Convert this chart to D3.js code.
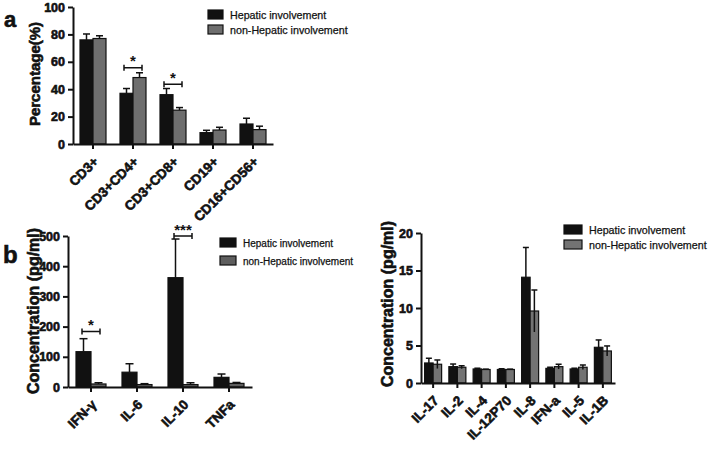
<!DOCTYPE html>
<html>
<head>
<meta charset="utf-8">
<script src="https://cdn.jsdelivr.net/npm/d3@7"></script>
<style>
  body { margin: 0; background: #fff; }
  svg { display: block; font-family: "Liberation Sans", Arial, sans-serif; }
  .tick text { font-weight: bold; font-family: "Liberation Sans", Arial, sans-serif; }
  .heavy { stroke: #111; stroke-width: 0.6px; }
  .leg { stroke: #111; stroke-width: 0.25px; }
</style>
</head>
<body>
<div id="chart"></div>
<script>
// panel a - lymphocyte subsets
var aCats = ["CD3+", "CD3+CD4+", "CD3+CD8+", "CD19+", "CD16+CD56+"];
var aHep = [76, 37, 36, 8.3, 14.6];
var aHepErr = [4.3, 3.5, 4.5, 1.7, 4.2];
var aNon = [77, 48.5, 24.7, 10.2, 10.5];
var aNonErr = [2, 3.5, 1.9, 2, 2.5];
var aTicks = [0, 20, 40, 60, 80, 100];
var aSigCats = ["CD3+CD4+", "CD3+CD8+"];
var aSigLevels = [55.6, 43.7];
var aSigMarks = ["*", "*"];

// panel b left - cytokines (high)
var bCats = ["IFN-γ", "IL-6", "IL-10", "TNFa"];
var bHep = [117, 49, 362, 32];
var bHepErr = [43, 28, 128, 11];
var bNon = [10, 8, 8, 12];
var bNonErr = [4, 3, 6, 3];
var bTicks = [0, 100, 200, 300, 400, 500];
var bSigCats = ["IFN-γ", "IL-10"];
var bSigLevels = [184, 500];
var bSigMarks = ["*", "***"];

// panel b right - cytokines (low)
var cCats = ["IL-17", "IL-2", "IL-4", "IL-12P70", "IL-8", "IFN-a", "IL-5", "IL-1B"];
var cHep = [2.67, 2.18, 1.87, 1.8, 14.1, 1.95, 1.87, 4.76];
var cHepErr = [0.63, 0.35, 0.1, 0.1, 3.97, 0.15, 0.1, 0.98];
var cNon = [2.5, 2.1, 1.8, 1.8, 9.6, 2.18, 2.1, 4.27];
var cNonErr = [0.57, 0.2, 0.05, 0.05, 2.8, 0.32, 0.3, 0.67];
var cTicks = [0, 5, 10, 15, 20];

var series = ["Hepatic involvement", "non-Hepatic involvement"];

var svg = d3.select("#chart").append("svg")
    .attr("width", 709)
    .attr("height", 449);

function panel(p) {
    var x = d3.scaleBand().domain(p.cats).range([p.x0, p.x1]);
    var y = d3.scaleLinear().domain([0, p.max]).range([p.y0, p.y1]);
    var sub = d3.scaleBand().domain([0, 1]).range([-p.barW, p.barW]);
    var g = svg.append("g");
    var rows = p.cats.map(function(c, i) {
        return [
            {cat: c, s: 0, v: p.hep[i], e: p.hepErr[i]},
            {cat: c, s: 1, v: p.non[i], e: p.nonErr[i]}
        ];
    });
    var bars = [].concat.apply([], rows);
    var cx = function(d) { return x(d.cat) + x.bandwidth() / 2 + sub(d.s); };

    g.selectAll("rect.bar").data(bars).enter().append("rect")
        .attr("class", "bar")
        .attr("x", cx)
        .attr("y", function(d) { return y(d.v); })
        .attr("width", p.barW)
        .attr("height", function(d) { return y(0) - y(d.v); })
        .attr("fill", function(d) { return d.s ? p.gray : "#111"; })
        .attr("stroke", "#111")
        .attr("stroke-width", 1.2);

    // error bars (mean + SD, cap on top)
    g.selectAll("line.err").data(bars).enter().append("line")
        .attr("x1", function(d) { return cx(d) + p.barW / 2; })
        .attr("x2", function(d) { return cx(d) + p.barW / 2; })
        .attr("y1", function(d) { return y(p.both ? d.v - d.e : d.v); })
        .attr("y2", function(d) { return y(d.v + d.e); })
        .attr("stroke", "#111").attr("stroke-width", 1.5);
    g.selectAll("line.cap").data(bars).enter().append("line")
        .attr("x1", function(d) { return cx(d) + p.barW / 2 - p.cap; })
        .attr("x2", function(d) { return cx(d) + p.barW / 2 + p.cap; })
        .attr("y1", function(d) { return y(d.v + d.e); })
        .attr("y2", function(d) { return y(d.v + d.e); })
        .attr("stroke", "#111").attr("stroke-width", 1.5);

    // axes
    var ya = g.append("g")
        .attr("transform", "translate(" + p.x0 + ",0)")
        .call(d3.axisLeft(y).tickValues(p.ticks).tickSize(5).tickSizeOuter(0).tickPadding(3));
    var xa = g.append("g")
        .attr("transform", "translate(0," + p.y0 + ")")
        .call(d3.axisBottom(x).tickSize(5).tickSizeOuter(0));
    [ya, xa].forEach(function(a) {
        a.attr("font-size", 12.5).attr("font-family", null);
        a.select(".domain").attr("stroke", "#111").attr("stroke-width", 2);
        a.selectAll(".tick line").attr("stroke", "#111").attr("stroke-width", 2);
        a.selectAll("text").attr("fill", "#111").attr("class", "heavy");
    });
    xa.attr("font-size", 13.5);
    xa.selectAll("text")
        .attr("x", 0).attr("y", 0).attr("dy", "0.35em")
        .attr("text-anchor", "end")
        .attr("transform", "translate(3,15) rotate(-45)");

    // y label
    g.append("text")
        .attr("class", "heavy")
        .attr("transform", "translate(" + p.labX + "," + p.labY + ") rotate(-90)")
        .attr("text-anchor", "middle")
        .style("font-weight", "bold")
        .attr("font-size", p.labSize)
        .attr("fill", "#111")
        .text(p.label);

    // significance brackets
    (p.sigCats || []).forEach(function(c, i) {
        var mx = x(c) + x.bandwidth() / 2;
        var by = y(p.sigLevels[i]);
        var h = 9;
        g.append("path")
            .attr("d", "M" + (mx - h) + "," + (by - 3) + "V" + (by + 3) +
                "M" + (mx - h) + "," + by + "H" + (mx + h) +
                "M" + (mx + h) + "," + (by - 3) + "V" + (by + 3))
            .attr("stroke", "#111").attr("stroke-width", 1.5).attr("fill", "none");
        g.append("text")
            .attr("x", mx).attr("y", by - 1.5)
            .attr("text-anchor", "middle")
            .style("font-weight", "bold").attr("font-size", 15)
            .attr("fill", "#111")
            .text(p.sigMarks[i]);
    });

    // legend
    var lg = g.append("g").attr("transform", "translate(" + p.legX + "," + p.legY + ")");
    series.forEach(function(s, i) {
        lg.append("rect")
            .attr("x", 0).attr("y", i * p.legGap)
            .attr("width", p.legW).attr("height", p.legH)
            .attr("fill", i ? p.gray : "#111")
            .attr("stroke", "#111").attr("stroke-width", 1.2);
        lg.append("text")
            .attr("class", "leg")
            .attr("x", p.legW + 7).attr("y", i * p.legGap + p.legH - 0.5)
            .attr("font-size", p.legSize)
            .attr("fill", "#111")
            .text(s);
    });
}

panel({cats: aCats, hep: aHep, hepErr: aHepErr, non: aNon, nonErr: aNonErr,
    ticks: aTicks, max: 100, x0: 73, x1: 273, y0: 144, y1: 7, barW: 13, cap: 3.5,
    gray: "#6e6e6e", label: "Percentage(%)", labX: 40, labY: 74, labSize: 15,
    sigCats: aSigCats, sigLevels: aSigLevels, sigMarks: aSigMarks,
    legX: 208, legY: 10, legW: 15, legH: 9, legGap: 15, legSize: 10.7});

panel({cats: bCats, hep: bHep, hepErr: bHepErr, non: bNon, nonErr: bNonErr,
    ticks: bTicks, max: 500, x0: 68, x1: 252, y0: 387, y1: 236, barW: 15, cap: 4,
    gray: "#5e5e5e", label: "Concentration (pg/ml)", labX: 39, labY: 311, labSize: 16,
    sigCats: bSigCats, sigLevels: bSigLevels, sigMarks: bSigMarks,
    legX: 220, legY: 238, legW: 16, legH: 9, legGap: 18, legSize: 10});

panel({cats: cCats, hep: cHep, hepErr: cHepErr, non: cNon, nonErr: cNonErr,
    ticks: cTicks, max: 20, x0: 421, x1: 615, y0: 383, y1: 233, barW: 8.5, cap: 3,
    gray: "#737373", label: "Concentration (pg/ml)", labX: 393, labY: 304, labSize: 16,
    both: true,
    legX: 564, legY: 225, legW: 18, legH: 9, legGap: 15, legSize: 10.7});

// panel letters
svg.append("text").attr("x", 4).attr("y", 27).attr("class", "heavy")
    .style("font-weight", "bold").attr("font-size", 22).attr("fill", "#111").text("a");
svg.append("text").attr("x", 3).attr("y", 263).attr("class", "heavy")
    .style("font-weight", "bold").attr("font-size", 24).attr("fill", "#111").text("b");
</script>
</body>
</html>
